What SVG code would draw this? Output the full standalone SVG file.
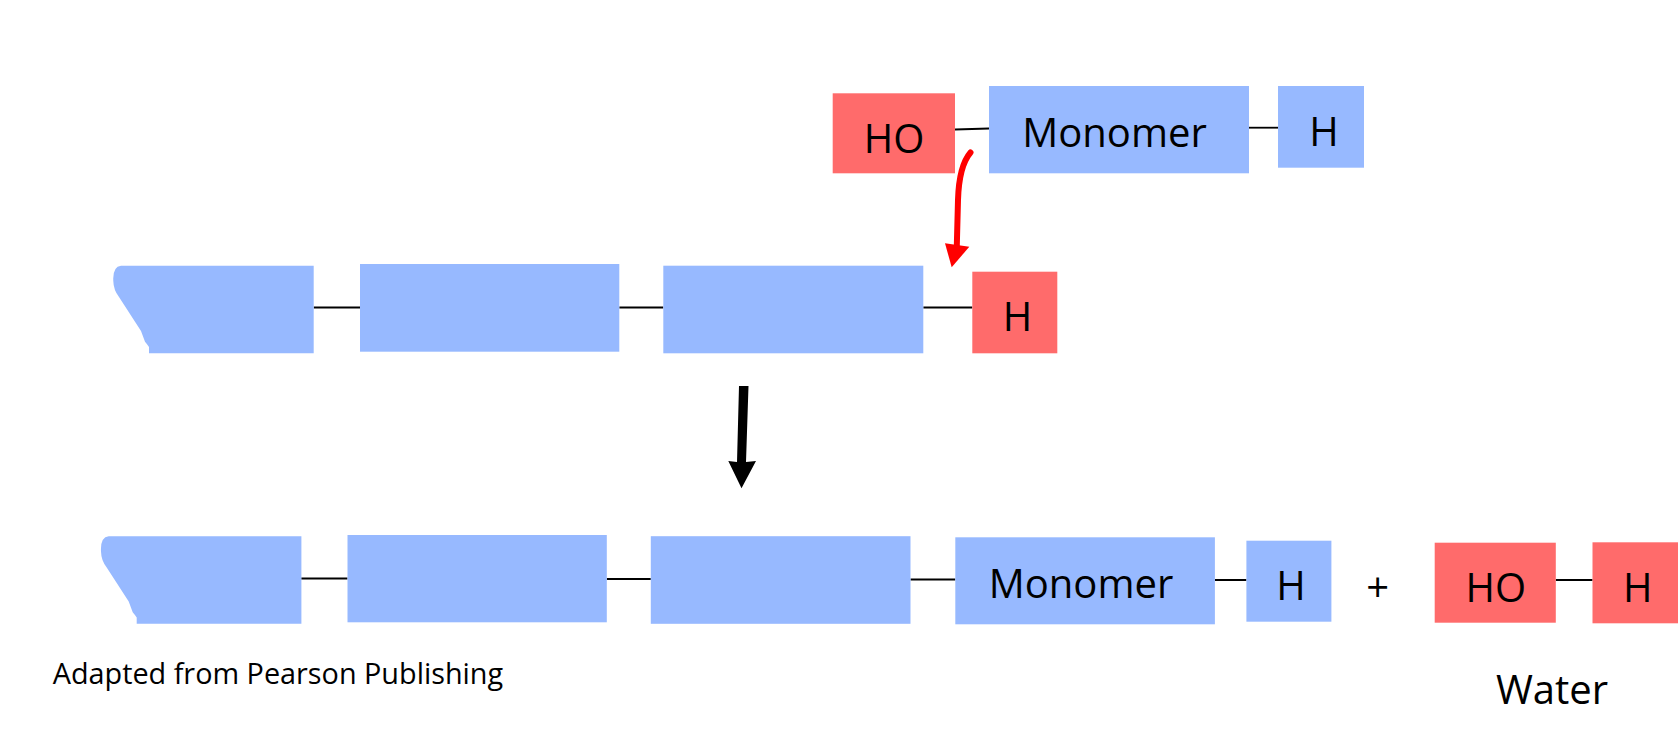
<svg xmlns="http://www.w3.org/2000/svg" width="1678" height="744" viewBox="0 0 1678 744">
<style>
.blue{fill:#97b9ff}
.red{fill:#ff6b6b}
.lbl{font-family:"Open Sans","Liberation Sans",sans-serif;font-size:40px;fill:#000;text-anchor:middle}
.note{font-family:"Open Sans","Liberation Sans",sans-serif;font-size:28.8px;fill:#000}
.bond{stroke:#000;stroke-width:1.8;fill:none}
</style>
<defs>
<path id="torn" d="M121,265.7 L313.7,265.7 L313.7,353.3 L149,353.3 L149,347 Q147,344 145,341.7 L141,331 L119,297 Q113.5,290 113.3,281 Q112.5,266.5 121,265.7 Z"/>
</defs>
<rect width="1678" height="744" fill="#fff"/>
<g id="connectors">
<line class="bond" x1="955" y1="129.5" x2="989" y2="128.5"/>
<line class="bond" x1="1249" y1="127.7" x2="1278" y2="127.7"/>
<line class="bond" x1="313.7" y1="307.5" x2="360" y2="307.5"/>
<line class="bond" x1="619.3" y1="307.5" x2="663.3" y2="307.5"/>
<line class="bond" x1="923.3" y1="307.5" x2="972.3" y2="307.5"/>
<line class="bond" x1="301.2" y1="578.5" x2="347.5" y2="578.5"/>
<line class="bond" x1="606.8" y1="579" x2="650.8" y2="579"/>
<line class="bond" x1="910.5" y1="579.5" x2="955.3" y2="579.5"/>
<line class="bond" x1="1214.9" y1="580" x2="1246.4" y2="580"/>
<line class="bond" x1="1555.8" y1="580" x2="1592.5" y2="580"/>
<path d="M970.5,152.5 Q959,166 958,200 L956.8,246" stroke="#ff0000" stroke-width="6" fill="none" stroke-linecap="round"/>
<polygon points="945,243.3 969.3,246.7 951.7,267.3" fill="#ff0000"/>
<polygon points="739,386 748.5,386 746,462 756,461 741.5,488.3 728.3,461 737,462" fill="#000"/>
</g>
<g id="ho-top"><rect class="red" x="832.7" y="93.3" width="122.3" height="80"/><text class="lbl" x="894" y="153.3">HO</text></g>
<g id="monomer-top"><rect class="blue" x="989" y="86" width="260" height="87.3"/><text class="lbl" x="1114.5" y="146.7">Monomer</text></g>
<g id="h-top"><rect class="blue" x="1278" y="86" width="86" height="81.7"/><text class="lbl" x="1324" y="145.7">H</text></g>
<g id="chain-end-1"><use href="#torn" class="blue"/></g>
<g id="chain-2"><rect class="blue" x="360" y="264" width="259.3" height="87.7"/></g>
<g id="chain-3"><rect class="blue" x="663.3" y="265.7" width="260" height="87.6"/></g>
<g id="h-mid"><rect class="red" x="972.3" y="271.7" width="85" height="81.6"/><text class="lbl" x="1017.5" y="331">H</text></g>
<g id="chain-end-1b"><use href="#torn" class="blue" transform="translate(-12.3,270.5)"/></g>
<g id="chain-2b"><rect class="blue" x="347.5" y="535" width="259.3" height="87.3"/></g>
<g id="chain-3b"><rect class="blue" x="650.8" y="536.2" width="259.7" height="87.6"/></g>
<g id="monomer-bottom"><rect class="blue" x="955.3" y="537.3" width="259.6" height="87"/><text class="lbl" x="1081" y="598.3">Monomer</text></g>
<g id="h-bottom"><rect class="blue" x="1246.4" y="540.7" width="85" height="81"/><text class="lbl" x="1291" y="600">H</text></g>
<g id="plus"><text class="lbl" x="1377.7" y="602">+</text></g>
<g id="ho-water"><rect class="red" x="1434.7" y="542.7" width="121.1" height="80"/><text class="lbl" x="1495.8" y="602.3">HO</text></g>
<g id="h-water"><rect class="red" x="1592.5" y="542.3" width="85.5" height="81"/><text class="lbl" x="1637.8" y="602.3">H</text></g>
<g id="water-label"><text class="lbl" x="1552" y="704.3">Water</text></g>
<g id="credit"><text class="note" x="52.7" y="684">Adapted from Pearson Publishing</text></g>
</svg>
